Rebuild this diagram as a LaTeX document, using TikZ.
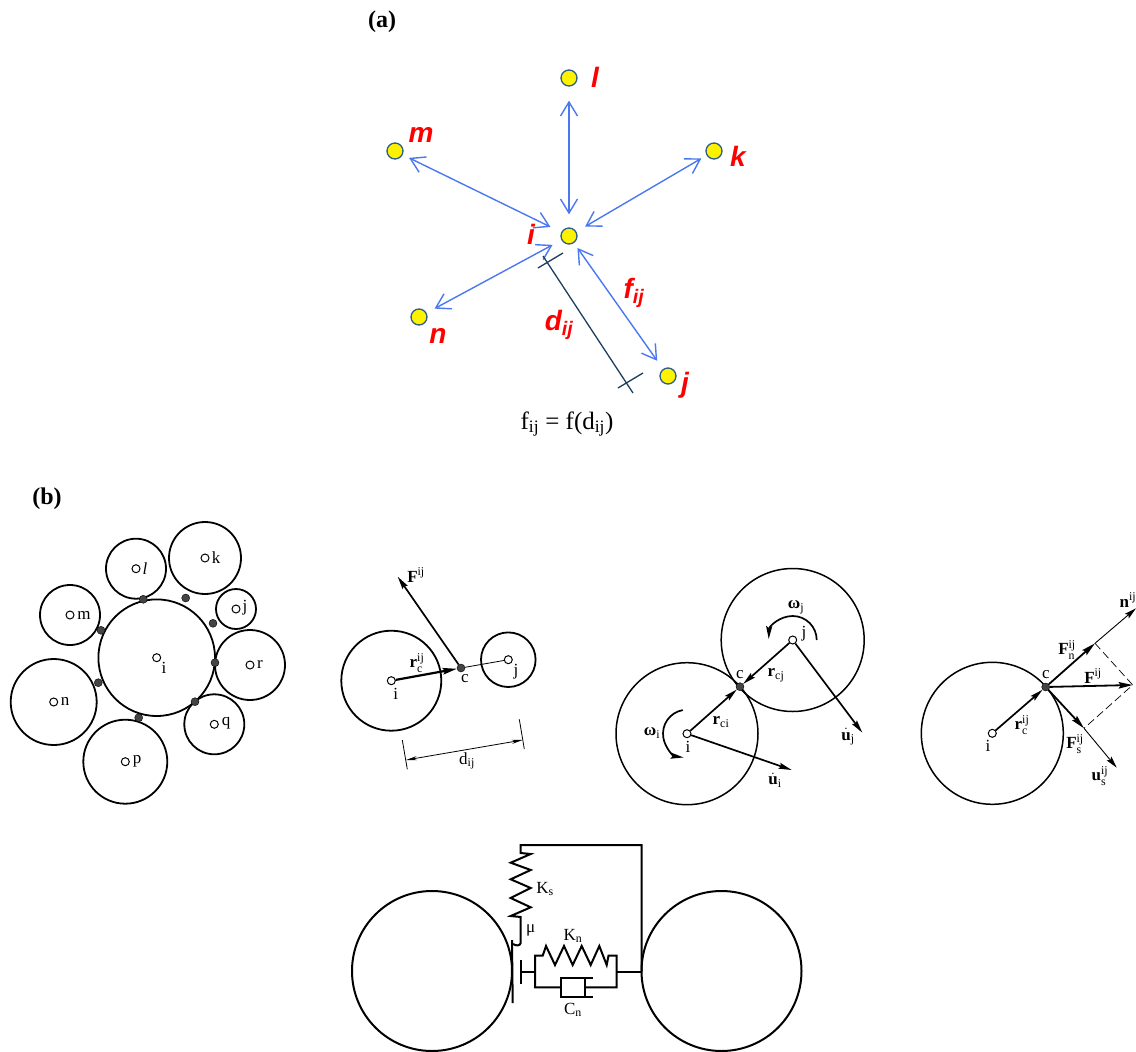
\documentclass[tikz,border=0pt]{standalone}
\usepackage{fontspec}
\setmainfont{Liberation Serif}
\newfontfamily\redfont{Liberation Sans}
\usetikzlibrary{arrows.meta}
\definecolor{dotedge}{HTML}{2B5C8A}
\definecolor{forceblue}{HTML}{4A78F0}
\definecolor{dimnavy}{HTML}{1D3F5E}
\definecolor{contact}{HTML}{444444}
\begin{document}
\begin{tikzpicture}
  [x=1pt,y=-1pt,every node/.style={inner sep=0pt},line join=miter]
  \tikzstyle{panel} = [font=\fontsize{24}{26}\selectfont\bfseries]
  \tikzstyle{agent} = [circle,draw=dotedge,fill=yellow,line width=1.3pt,minimum size=16pt]
  \tikzstyle{redtxt} = [text=red,font=\fontsize{28}{30}\redfont\bfseries\itshape]
  \tikzstyle{force} = [draw=forceblue,line width=1.4pt,{Straight Barb[length=14pt,width=17pt]}-{Straight Barb[length=14pt,width=17pt]}]
  \tikzstyle{grain} = [circle,draw,line width=1.8pt,fill=none]
  \tikzstyle{hub} = [circle,draw,line width=1pt,fill=white,minimum size=8pt]
  \tikzstyle{touch} = [circle,fill=contact,draw=black,line width=.4pt,minimum size=8pt]
  \tikzstyle{txt} = [font=\fontsize{17}{19}\selectfont]
  \tikzstyle{vec} = [line width=1.7pt,-{Stealth[length=13pt,width=6pt,inset=2pt]}]
  \tikzstyle{thick vec} = [line width=2.2pt,-{Stealth[length=14pt,width=6.5pt,inset=2pt]}]
  \tikzstyle{spring} = [line width=2pt]
  \useasboundingbox (0,0) rectangle (1136,1052);
  % (a)
  \node[panel] (lba) at (382,22) {(a)};
  \foreach \name/\x/\y in {i/569/236,l/569/78,m/395/151,k/714/151,n/419/317,j/668/376}
    \node[agent] (a\name) at (\x,\y) {};
  \foreach \dest/\near/\far in {l/13/14,m/12/7,k/10/6,n/10/9,j/6/10}
    \draw[force,shorten <=\near pt,shorten >=\far pt] (ai) -- (a\dest);
  \foreach \name/\x/\y/\lab in {l/595/77/l,m/421/135/m,k/738/156/k,i/531/234/i,n/438/336/n,j/685/385/j}
    \node[redtxt] (t\name) at (\x,\y) {\lab};
  \node[redtxt] (tf) at (634,293) {f\textsubscript{ij}};
  \node[redtxt] (td) at (559,325) {d\textsubscript{ij}};
  \coordinate (da) at (543,256);
  \coordinate (db) at (633,393);
  \draw[dimnavy,line width=1.3pt] (da) -- (db);
  \draw[dimnavy,line width=1.3pt] (538,268) -- (563,253) (618,388) -- (643,373);
  \node[font=\fontsize{25}{27}\selectfont] (law) at (567,424) {f$_{\mathrm{ij}}$ = f(d$_{\mathrm{ij}}$)};
  % (b) packing
  \node[panel] (lbb) at (47,499) {(b)};
  \foreach \name/\x/\y/\rad/\lx/\ly/\lab in
    {i/156.7/657.7/58.3/164/668/i,l/136/568.7/30/145/569/\textit{l},k/205/558/36/216/558/k,
     j/236/609/20/245/608/j,m/70/615/30/84/615/m,r/250/665/35/260/664/r,
     n/53.7/702/43/65/701/n,p/125.3/761.7/42/137/761/p,q/214.3/724.3/30/226/723/q} {
    \node[grain,minimum size=2*\rad pt] (g\name) at (\x,\y) {};
    \node[hub] (h\name) at (\x,\y) {};
    \node[txt] (l\name) at (\lx,\ly) {\lab};
  }
  \foreach \name/\x/\y in {a/143.3/599.3,b/185.7/598,c/213/623.3,d/215/662.7,e/195/701.7,f/138.7/717.7,g/98.3/682.7,h/101/630.3}
    \node[touch] (p\name) at (\x,\y) {};
  % (b) pair with gap
  \node[grain,minimum size=100pt] (si) at (391.3,680.7) {};
  \node[grain,minimum size=54.6pt] (sj) at (508.3,659.7) {};
  \node[hub] (shi) at (391.3,680.7) {};
  \node[hub] (shj) at (508.3,659.7) {};
  \node[touch] (sc) at (461,668) {};
  \coordinate (sf) at (397.7,576.7);
  \draw[vec] (sc) -- (sf);
  \draw[thick vec] (shi) -- (sc);
  \draw[line width=.8pt] (sc) -- (shj);
  \coordinate (sa) at (406,760);
  \coordinate (sb) at (522.7,740);
  \draw[line width=.8pt] (402.3,740) -- (407.3,769.3) (519.3,719.3) -- (524.3,749);
  \draw[line width=.8pt,{Stealth[length=11pt,width=4pt]}-{Stealth[length=11pt,width=4pt]}] (sa) -- (sb);
  \foreach \name/\x/\y/\lab in {a/416/575/$\mathbf{F}^{\mathrm{ij}}$,b/417/663/$\mathbf{r}^{\mathrm{ij}}_{\mathrm{c}}$,c/465/679/c,
    d/395.7/694/i,e/516/672/j,f/467/761/d$_{\mathrm{ij}}$}
    \node[txt] (s\name t) at (\x,\y) {\lab};
  % (b) pair in contact
  \node[grain,line width=1.5pt,minimum size=142pt] (ti) at (687,733.7) {};
  \node[grain,line width=1.5pt,minimum size=143pt] (tj) at (792.7,640) {};
  \node[hub] (thi) at (687,733.7) {};
  \node[hub] (thj) at (792.7,640) {};
  \node[touch] (tc) at (740,686.7) {};
  \coordinate (tui) at (791.7,770);
  \coordinate (tuj) at (862.3,732.7);
  \draw[vec] (thi) -- (tc);
  \draw[vec] (thj) -- (tc);
  \draw[vec] (thi) -- (tui);
  \draw[vec] (thj) -- (tuj);
  \draw[vec] ([shift={(0:24pt)}]thj.center) arc[start angle=0,end angle=178,radius=24pt];
  \draw[vec] ([shift={(100:24pt)}]thi.center) arc[start angle=100,end angle=262,radius=24pt];
  \foreach \name/\x/\y/\lab in {a/796/607/\textbf{ω}$_{\mathrm{j}}$,b/804/634/j,c/740/675/c,d/776/675/$\mathbf{r}_{\mathrm{cj}}$,
    e/721/722/$\mathbf{r}_{\mathrm{ci}}$,f/652/733/\textbf{ω}$_{\mathrm{i}}$,g/688/747/i,h/775/780/$\dot{\mathbf{u}}_{\mathrm{i}}$,m/848/737/$\dot{\mathbf{u}}_{\mathrm{j}}$}
    \node[txt] (t\name t) at (\x,\y) {\lab};
  % (b) force components
  \node[grain,line width=1.5pt,minimum size=142pt] (ui) at (992.3,733.3) {};
  \node[hub] (uhi) at (992.3,733.3) {};
  \node[touch] (uc) at (1045.7,687) {};
  \coordinate (un) at (1136,608.3);
  \coordinate (ufn) at (1095,643.3);
  \coordinate (uf) at (1132.7,685);
  \coordinate (ufs) at (1084,728.3);
  \coordinate (us) at (1116.7,767.7);
  \draw[line width=.9pt,-{Stealth[length=12pt,width=6pt,inset=2pt]}] (ufn) -- (un);
  \draw[line width=.9pt,-{Stealth[length=12pt,width=6pt,inset=2pt]}] (ufs) -- (us);
  \draw[vec] (uhi) -- (uc);
  \draw[thick vec,line width=1.8pt] (uc) -- (ufn);
  \draw[thick vec,line width=1.8pt] (uc) -- (ufs);
  \draw[thick vec,line width=1.8pt] (uc) -- (uf);
  \draw[line width=.7pt,dash pattern=on 8pt off 4pt] (ufn) -- (uf) -- (ufs);
  \foreach \name/\x/\y/\lab in {a/1128/600/$\mathbf{n}^{\mathrm{ij}}$,b/1067/650/$\mathbf{F}^{\mathrm{ij}}_{\mathrm{n}}$,c/1093/676/$\mathbf{F}^{\mathrm{ij}}$,
    d/1046/675/c,e/1022/725/$\mathbf{r}^{\mathrm{ij}}_{\mathrm{c}}$,f/988/746/i,g/1075/744/$\mathbf{F}^{\mathrm{ij}}_{\mathrm{s}}$,h/1100/776/$\mathbf{u}^{\mathrm{ij}}_{\mathrm{s}}$}
    \node[txt] (u\name t) at (\x,\y) {\lab};
  % (b) contact model
  \node[grain,line width=2pt,minimum size=160pt] (ml) at (432,971) {};
  \node[grain,line width=2pt,minimum size=160pt] (mr) at (721.5,971) {};
  \coordinate (mt) at (520.7,845);
  \coordinate (mq) at (641.7,845);
  \coordinate (mj) at (641.7,971.7);
  \draw[spring] (mj) -- (mq) -- (mt) -- (520.7,853) -- (530.7,854) -- (510.7,862.7) -- (530.7,870) -- (510.7,879.3) -- (530.7,888)
    -- (510.7,898) -- (530.7,907.3) -- (510.7,916) -- (520.7,917) -- (520.7,943) .. controls (520,946) and (516,946) .. (513,944);
  \draw[spring] (512,940) -- (512.7,1003);
  \draw[spring] (520.7,960) -- (520.7,984);
  \draw[spring] (520.7,971.7) -- (535,971.7);
  \draw[spring] (560.7,987.3) -- (535,987.3) -- (535,955.7) -- (542.7,955.7) -- (546,946) -- (555,965) -- (564,946) -- (572.7,965)
    -- (581.7,946) -- (590.7,965) -- (599.3,946) -- (606.7,965) -- (608.5,955.7) -- (616.7,955.7) -- (616.7,987.3) -- (585,987.3);
  \draw[spring] (616.7,971.7) -- (mj);
  \draw[spring] (592.7,978.3) -- (560.7,978.3) -- (560.7,996.7) -- (592.7,996.7);
  \draw[spring] (585,978.3) -- (585,996.7);
  \foreach \name/\x/\y/\lab in {a/545/889/K$_{\mathrm{s}}$,b/530.7/930/μ,c/573/936/K$_{\mathrm{n}}$,d/573/1010/C$_{\mathrm{n}}$}
    \node[txt] (m\name t) at (\x,\y) {\lab};
\end{tikzpicture}
\end{document}
